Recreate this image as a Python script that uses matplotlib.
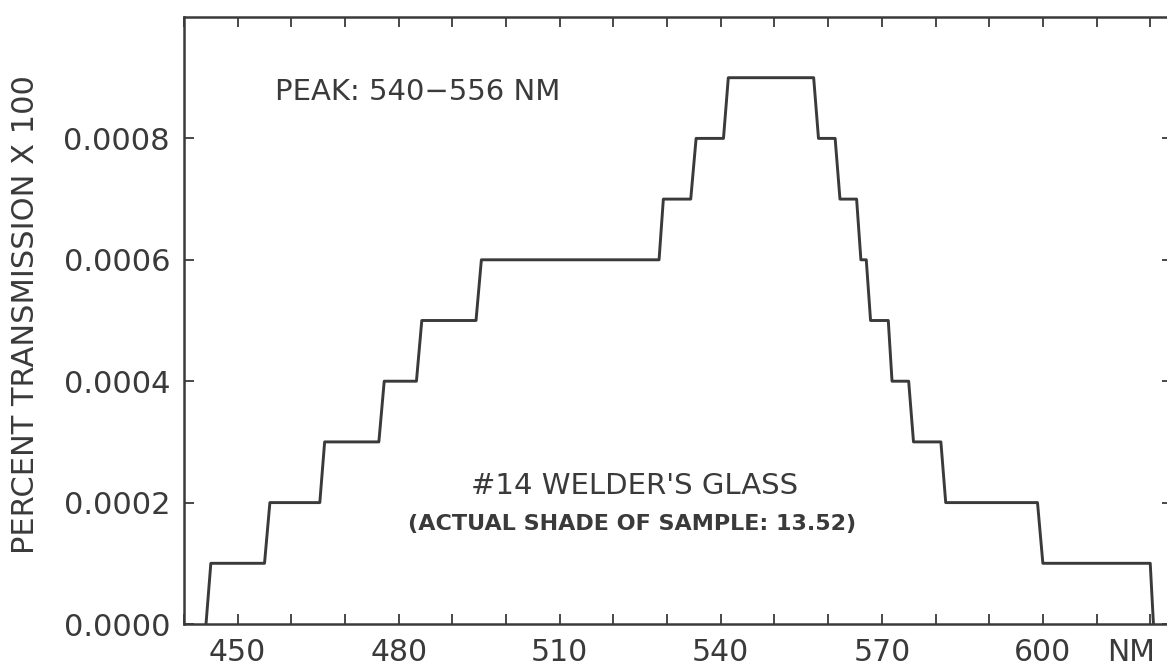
import matplotlib
matplotlib.use("Agg")
import matplotlib.pyplot as plt

# step curve (wavelength in nm, transmission)
wavelength = [444.1, 445.0, 455.0, 456.0, 465.3, 466.2, 476.3, 477.3,
              483.3, 484.3, 494.4, 495.4, 528.5, 529.3, 534.4, 535.4,
              540.5, 541.4, 557.3, 558.2, 561.3, 562.2, 565.3, 566.1,
              567.1, 567.9, 571.2, 571.9, 575.0, 575.9, 581.0, 581.9,
              599.0, 600.0, 620.0, 620.6]
transmission = [0.0000, 0.0001, 0.0001, 0.0002, 0.0002, 0.0003, 0.0003, 0.0004,
                0.0004, 0.0005, 0.0005, 0.0006, 0.0006, 0.0007, 0.0007, 0.0008,
                0.0008, 0.0009, 0.0009, 0.0008, 0.0008, 0.0007, 0.0007, 0.0006,
                0.0006, 0.0005, 0.0005, 0.0004, 0.0004, 0.0003, 0.0003, 0.0002,
                0.0002, 0.0001, 0.0001, 0.0000]

x_labelled = [450, 480, 510, 540, 570, 600]
x_minor = list(range(440, 630, 10))
y_ticks = [0.0000, 0.0002, 0.0004, 0.0006, 0.0008]
y_tick_labels = ["0.0000", "0.0002", "0.0004", "0.0006", "0.0008"]

ink = "#3a3a3a"

fig = plt.figure(figsize=(11.67, 6.66), dpi=100)
ax = fig.add_axes([184 / 1167, 1 - 624 / 666, 987.7 / 1167, 607 / 666])

ax.plot(wavelength, transmission, color=ink, linewidth=2.1)

ax.set_xlim(440, 624)
ax.set_ylim(0, 0.001)

ax.set_xticks(x_labelled)
ax.set_xticklabels([str(v) for v in x_labelled])
ax.set_xticks(x_minor, minor=True)
ax.set_yticks(y_ticks)
ax.set_yticklabels(y_tick_labels)

ax.tick_params(which="both", direction="in", length=7, width=1.3, color=ink,
               top=True, right=True, labelcolor=ink)
ax.tick_params(axis="x", which="major", labelsize=21.5, pad=10)
ax.tick_params(axis="y", which="major", labelsize=22, pad=10)

for s in ax.spines.values():
    s.set_color(ink)
    s.set_linewidth(1.8)

ax.set_ylabel("PERCENT TRANSMISSION X 100", fontsize=22, color=ink,
              family=["Liberation Sans Narrow", "DejaVu Sans"])
ax.yaxis.set_label_coords(-0.146, 0.51)

# "NM" sits on the tick label row, right of 600
ax.annotate("NM", xy=(616.5, 0), xycoords=("data", "axes fraction"),
            xytext=(0, -10), textcoords="offset points",
            ha="center", va="top", fontsize=21.5, color=ink)

ax.text(457.0, 0.000877, "PEAK: 540\u2212556 NM", fontsize=21, color=ink,
        ha="left", va="center")
ax.text(524.0, 0.000227, "#14 WELDER'S GLASS", fontsize=21, color=ink,
        ha="center", va="center")
ax.text(523.5, 0.000165, "(ACTUAL SHADE OF SAMPLE: 13.52)", fontsize=16,
        fontweight="bold", color=ink, ha="center", va="center")

fig.savefig("out.png", dpi=100)
